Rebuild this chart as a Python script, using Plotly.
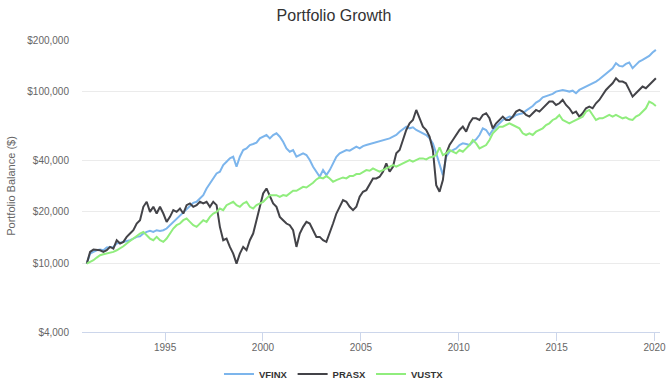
import numpy as np
import pandas as pd
import plotly.graph_objects as go

# ---- data ----
vfinx = [
    10000, 11437, 11696, 11960, 12068, 11960, 12397, 12507, 12507, 13080,
    13199, 13376, 13556, 13678, 13988, 14304, 14433, 14959, 15298, 15505,
    15298, 15643, 15505, 15643, 15998, 16730, 17496, 18296, 19134, 20000,
    20926, 21884, 22584, 22885, 23932, 25028, 27371, 29270, 31303, 33475,
    34233, 37438, 39151, 40943, 41869, 36609, 41869, 45789, 46825, 48968,
    49630, 50530, 53552, 54765, 56002, 53552, 56002, 57271, 54765, 51208,
    46825, 44776, 45789, 41869, 42816, 43785, 42816, 40037, 36609, 34233,
    32010, 35007, 32735, 35007, 38285, 41869, 43785, 44776, 45789, 45380,
    46825, 47885, 46825, 48300, 48968, 49630, 50076,
    50530, 51208, 51890, 52840, 53552, 54765, 56002, 58565, 60420, 62633,
    61245, 62080, 59892, 58565, 57271, 56002, 53552, 50076, 43785, 38285,
    32735, 41869, 44776, 45789, 46825, 48968, 50076, 49630, 48968, 51208,
    52840, 56002, 61245, 59892, 56002, 59892, 62633, 65500, 68497, 70044,
    71632, 70990, 73250, 74250, 74910, 77640, 80107, 82660, 86440, 88800,
    92850, 94550, 95808, 97100, 100192, 101400, 102466, 101400, 100192, 101400,
    97982, 102466, 104777, 107156, 109573, 111070, 114587, 118240, 122551, 127040,
    131052, 137050, 146574, 141440, 140159, 145260, 147880, 137050, 143322, 149882,
    153282, 156741, 161750, 169260, 175305,
]

prasx = [
    10000, 11696, 12068, 11960, 11960, 11696, 11960, 12507, 12231, 13678,
    13080, 13376, 14304, 14959, 15643, 17108, 17891, 21399, 22885, 20000,
    21399, 19566, 21399, 19566, 17496, 18710, 20462, 20000, 20926, 19566,
    21884, 22378, 21399, 21884, 22885, 22378, 22885, 21399, 22885, 21884,
    16359, 13678, 13988, 12507, 11437, 10000, 11437, 12507, 11960, 13678,
    14959, 17891, 21399, 25593, 27371, 24473, 22378, 21399, 18710, 17891,
    17108, 16730, 15643, 12507, 14959, 16359, 17496, 17108, 15643, 14304,
    14304, 13678, 13376, 14959, 17108, 19566, 21399, 23402, 22885, 21399,
    20462, 21399, 24473, 26173, 26764, 29270, 31303,
    31303, 32010, 34233, 38285, 34233, 36609, 43785, 45789, 52368, 59892,
    65500, 68497, 78338, 70044, 62633, 59892, 54765, 45789, 28623, 26173,
    30610, 43785, 48968, 52368, 56002, 59892, 62633, 58565, 65500, 70044,
    70044, 68497, 73250, 74910, 70044, 61245, 65500, 68497, 71632, 68497,
    68497, 71632, 76601, 78338, 76601, 73250, 71632, 74910, 78338, 76601,
    80107, 83775, 87606, 87606, 83775, 85673, 89594, 83775, 80107, 74910,
    76601, 71632, 74910, 80107, 81924, 80107, 85673, 89594, 95808, 102466,
    107156, 112060, 119831, 114587, 114587, 112060, 102466, 93694, 97982, 102466,
    107156, 104777, 109573, 114587, 119831,
]

vustx = [
    10000, 10226, 10458, 10840, 11184, 11330, 11437, 11540, 11696, 11960,
    12231, 12620, 13080, 13556, 13988, 14433, 14959, 15298, 14629, 13988,
    13678, 14304, 13678, 13376, 13988, 14959, 15998, 16730, 17108, 17891,
    18296, 17496, 16730, 16359, 17108, 17891, 17496, 18710, 19566, 20000,
    20926, 20462, 21884, 22378, 22885, 21884, 21399, 22378, 22885, 21399,
    20926, 21884, 22378, 22885, 23932, 25028, 25028, 25028, 24473, 25028,
    24800, 25593, 26530, 26530, 27371, 27989, 27740, 28623, 29530, 30890,
    31720, 31303, 32300, 31303, 29933, 30610, 31303, 31720, 31303, 32300,
    32300, 33170, 33170, 34233, 35007, 34680, 35800,
    35007, 34233, 35007, 35800, 36609, 37438, 36609, 37438, 38285, 39151,
    40037, 39151, 40037, 40943, 40943, 40400, 41490, 41869, 42816, 47420,
    42816, 43785, 45789, 44776, 43785, 45789, 44776, 46825, 48968, 52368,
    50076, 46825, 47885, 48968, 52368, 57271, 59892, 62633, 62633, 64048,
    65500, 64048, 62633, 61245, 57271, 56002, 57271, 56002, 58565, 59892,
    61245, 64048, 65500, 68497, 70044, 73250, 68497, 66979, 65500, 66979,
    68497, 70044, 71632, 76601, 78338, 73250, 68497, 70044, 70044, 71632,
    73250, 71632, 73250, 71632, 70044, 70990, 69120, 68497, 71632, 73250,
    76601, 80107, 87606, 85673, 82660,
]

dates = pd.date_range("1991-01-01", "2020-01-26", periods=len(vfinx))

series = [("VFINX", vfinx, "#7cb5ec"), ("PRASX", prasx, "#434348"), ("VUSTX", vustx, "#90ed7d")]

y_ticks = [4000, 10000, 20000, 40000, 100000, 200000]
y_labels = ["$4,000", "$10,000", "$20,000", "$40,000", "$100,000", "$200,000"]
x_ticks = ["1995-01-01", "2000-01-01", "2005-01-01", "2010-01-01", "2015-01-01", "2020-01-01"]
x_labels = ["1995", "2000", "2005", "2010", "2015", "2020"]

FONT = "Liberation Sans, Arial, Helvetica, sans-serif"

fig = go.Figure()
for name, vals, color in series:
    fig.add_trace(go.Scatter(x=dates, y=vals, name=name, mode="lines",
                             line=dict(color=color, width=2)))

fig.update_layout(
    width=672, height=388,
    margin=dict(l=82, r=12, t=40, b=56, autoexpand=False),
    paper_bgcolor="white", plot_bgcolor="white",
    font=dict(family=FONT, color="#666666", size=10),
    title=dict(text="Portfolio Growth", x=0.497, xanchor="center", xref="container",
               y=1 - 15 / 388, yanchor="middle", yref="container",
               font=dict(size=16, color="#333333", family=FONT)),
    legend=dict(orientation="h", xref="container", yref="container",
                x=0.497, xanchor="center", y=1 - 374 / 388, yanchor="middle",
                font=dict(size=9.5, color="#333333", family=FONT, weight="bold"),
                itemwidth=30, bgcolor="rgba(0,0,0,0)"),
    showlegend=True,
)

fig.update_yaxes(type="log", range=[np.log10(4000), np.log10(200000)],
                 tickvals=y_ticks, ticktext=y_labels, automargin=False,
                 showgrid=True, gridcolor="#ebebeb", gridwidth=1,
                 zeroline=False, showline=False, ticks="",
                 ticklabelstandoff=12,
                 tickfont=dict(size=10, color="#666666"),
                 title=dict(text="Portfolio Balance ($)", standoff=9,
                            font=dict(size=11, color="#666666")))

fig.update_xaxes(type="date", range=["1990-10-04", "2020-04-12"],
                 tickvals=x_ticks, ticktext=x_labels, automargin=False,
                 showgrid=False, zeroline=False,
                 showline=True, linecolor="#ccd6eb", linewidth=1,
                 ticks="outside", ticklen=8, tickcolor="#ccd6eb", tickwidth=1,
                 ticklabelstandoff=-2,
                 tickfont=dict(size=10, color="#666666"))

fig.write_html("out.html",
               config={"displayModeBar": False},
               post_script="document.body.style.margin='0';document.body.style.padding='0';")
